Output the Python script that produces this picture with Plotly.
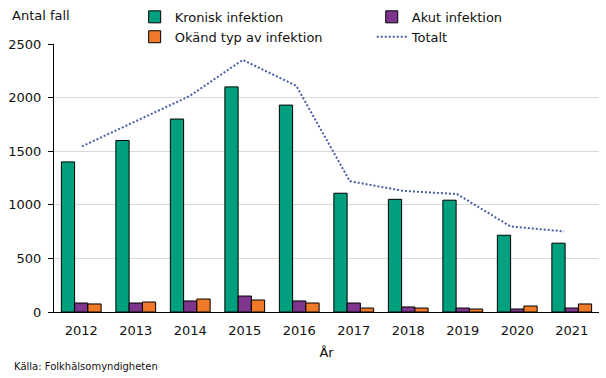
import plotly.graph_objects as go

years = ["2012", "2013", "2014", "2015", "2016", "2017", "2018", "2019", "2020", "2021"]
kronisk = [1400, 1600, 1800, 2100, 1930, 1108, 1051, 1043, 716, 642]
akut = [84, 84, 103, 149, 103, 84, 47, 37, 28, 37]
okand = [75, 93, 121, 112, 84, 37, 37, 28, 56, 75]
totalt = [1545, 1777, 2012, 2352, 2110, 1220, 1130, 1100, 798, 752]

FONT = "DejaVu Sans"
GREEN = "#00a07e"
PURPLE = "#7e358d"
ORANGE = "#f07a2a"
BLUE = "#4a5ea8"

fig = go.Figure()
fig.add_trace(go.Bar(x=years, y=kronisk, name="Kronisk infektion", marker=dict(color=GREEN, line=dict(color="black", width=1)), legend="legend"))
fig.add_trace(go.Bar(x=years, y=akut, name="Akut infektion", marker=dict(color=PURPLE, line=dict(color="black", width=1)), legend="legend2"))
fig.add_trace(go.Bar(x=years, y=okand, name="Okänd typ av infektion", marker=dict(color=ORANGE, line=dict(color="black", width=1)), legend="legend"))
fig.add_trace(go.Scatter(x=years, y=totalt, name="Totalt", mode="lines", xaxis="x2",
                         line=dict(color=BLUE, width=2, dash="2px,2px"), legend="legend2"))

fig.update_layout(
    width=606, height=378,
    margin=dict(l=54, r=7, t=44, b=66, autoexpand=False),
    paper_bgcolor="white", plot_bgcolor="white",
    font=dict(family=FONT, size=12, color="#111111"),
    barmode="group", bargap=0.27, bargroupgap=0,
    showlegend=True,
    legend=dict(x=0.148, y=0.995, yref="container", xanchor="left", yanchor="top",
                orientation="v", font=dict(size=13), tracegroupgap=0, itemwidth=30,
                bgcolor="rgba(0,0,0,0)"),
    legend2=dict(x=0.583, y=0.995, yref="container", xanchor="left", yanchor="top",
                 orientation="v", font=dict(size=13), tracegroupgap=0, itemwidth=30,
                 bgcolor="rgba(0,0,0,0)"),
    xaxis=dict(type="category", range=[-0.5, 9.5], showline=True, linecolor="black", linewidth=1,
               ticks="", showgrid=False, tickfont=dict(size=13), ticklabelstandoff=6,
               title=dict(text="År", font=dict(size=13), standoff=11)),
    xaxis2=dict(type="category", overlaying="x", range=[-0.522, 9.651], visible=False),
    yaxis=dict(range=[0, 2500], dtick=500, showline=True, linecolor="black", linewidth=1,
               ticks="outside", ticklen=5, tickcolor="black", showgrid=True, gridcolor="#d9d9d9",
               gridwidth=1, zeroline=False, tickfont=dict(size=13), ticklabelstandoff=4),
)

fig.add_annotation(text="Antal fall", xref="paper", yref="paper",
                   x=-0.08, y=1.108, xanchor="left", yanchor="middle",
                   showarrow=False, font=dict(size=13))
fig.add_annotation(text="Källa: Folkhälsomyndigheten", xref="paper", yref="paper",
                   x=-0.077, y=-0.205, xanchor="left", yanchor="middle",
                   showarrow=False, font=dict(size=10))

fig.write_html("out.html", config={"displayModeBar": False},
               post_script="document.body.style.margin='0';")
